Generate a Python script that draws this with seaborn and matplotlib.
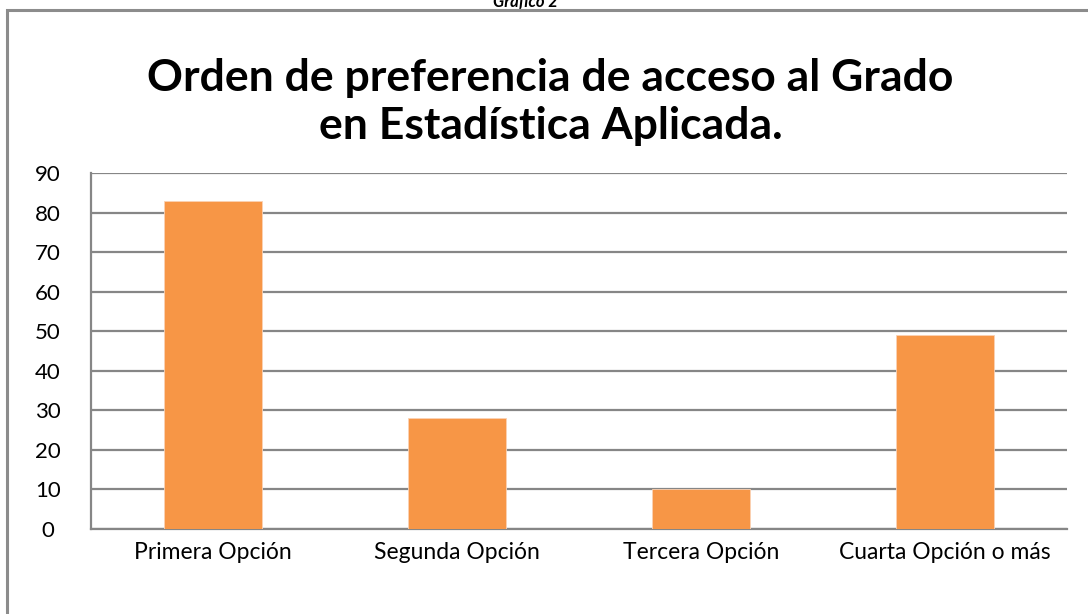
import matplotlib
matplotlib.use('Agg')
import matplotlib.pyplot as plt
import seaborn as sns
import pandas as pd
from matplotlib.patches import Rectangle

# datos
categorias = ['Primera Opción', 'Segunda Opción', 'Tercera Opción', 'Cuarta Opción o más']
valores = [83, 28, 10, 49]

sns.set_theme(style='white')
plt.rcParams['font.family'] = ['Lato', 'DejaVu Sans']
plt.rcParams['text.color'] = 'black'

df = pd.DataFrame({'opcion': categorias, 'n': valores})

fig = plt.figure(figsize=(10.88, 6.14), dpi=100)
ax = fig.add_axes([0.0836, 0.1384, 0.8971, 0.5798])

sns.barplot(data=df, x='opcion', y='n', color='#F79646', saturation=1,
            width=0.4, ax=ax, edgecolor='#FAD2B4', linewidth=0.6, zorder=3)

ax.set_ylim(0, 90)
ax.set_yticks(range(0, 91, 10))
ax.set_xlim(-0.5, 3.5)
ax.yaxis.grid(True, color='#868686', linewidth=1.6, zorder=0)
ax.set_axisbelow(True)
ax.set_xlabel('')
ax.set_ylabel('')
for s in ['top', 'right']:
    ax.spines[s].set_visible(False)
for s in ['left', 'bottom']:
    ax.spines[s].set_color('#868686')
    ax.spines[s].set_linewidth(1.6)
ax.tick_params(axis='y', labelsize=16, colors='black', length=0, pad=31)
ax.tick_params(axis='x', labelsize=16.5, colors='black', length=0, pad=9)
for lbl in ax.get_yticklabels():
    lbl.set_horizontalalignment('center')

# titulo
fig.text(0.506, 0.834, 'Orden de preferencia de acceso al Grado\nen Estadística Aplicada.',
         ha='center', va='center', fontsize=32, fontweight='bold', linespacing=1.22,
         color='black')

# marco del grafico
fig.patches.append(Rectangle((7 / 1088, -0.1), 1.2, 1.1 - 10 / 614, transform=fig.transFigure,
                             fill=False, edgecolor='#8C8C8C', linewidth=2.2))
fig.text(0.483, 1 - 7 / 614, 'Gráfico 2', ha='center', va='baseline',
         fontsize=12, fontweight='bold', fontstyle='italic', color='black')

fig.savefig('out.png', dpi=100)
